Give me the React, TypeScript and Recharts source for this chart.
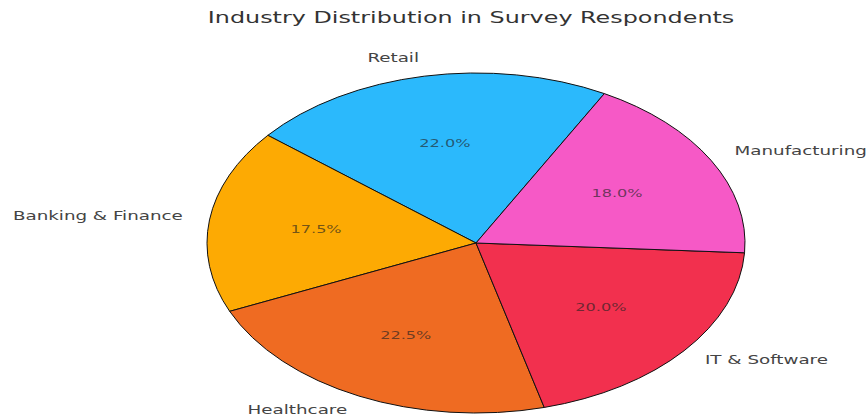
import React from "react";
import { PieChart, Pie, Cell } from "recharts";

// ---------------------------------------------------------------------------
// Data
// ---------------------------------------------------------------------------

const categories = [
  "Retail",
  "Banking & Finance",
  "Healthcare",
  "IT & Software",
  "Manufacturing",
];
const shares = [22.0, 17.5, 22.5, 20.0, 18.0];
const colors = ["#2BB9FC", "#FDAA03", "#EF6B22", "#F2304E", "#F659C6"];

const TITLE = "Industry Distribution in Survey Respondents";

// ---------------------------------------------------------------------------
// Layout (the reference is a matplotlib pie stretched horizontally)
// ---------------------------------------------------------------------------

const W = 868;
const H = 420;
const CX = 476;
const CY = 243;
const RX = 269;
const Y_RATIO = 0.632; // vertical radius / horizontal radius
const STRETCH = 1.55; // horizontal stretch applied to text
const RAD = Math.PI / 180;

const data = categories.map((name, i) => ({ name, value: shares[i] }));
const total = shares.reduce((a, b) => a + b, 0);

// eslint-disable-next-line @typescript-eslint/no-explicit-any
function renderLabel(props: Record<string, any>) {
  const { cx, cy, midAngle, outerRadius, index } = props;
  const cos = Math.cos(midAngle * RAD);
  const sin = Math.sin(midAngle * RAD);

  const lx = cx + outerRadius * 1.1 * cos;
  const ly = cy - outerRadius * Y_RATIO * 1.1 * sin;
  const px = cx + outerRadius * 0.6 * cos;
  const py = cy - outerRadius * Y_RATIO * 0.6 * sin;
  const pct = ((shares[index] / total) * 100).toFixed(1) + "%";

  return (
    <g key={`lbl-${index}`}>
      <text
        transform={`translate(${lx},${ly - 1}) scale(${STRETCH},1)`}
        x={0}
        y={0}
        textAnchor={cos < 0 ? "end" : "start"}
        dominantBaseline="central"
        fontFamily="DejaVu Sans"
        fontSize={11.8}
        fill="#444"
      >
        {categories[index]}
      </text>
      <text
        transform={`translate(${px},${py}) scale(${STRETCH},1)`}
        x={0}
        y={0}
        textAnchor="middle"
        dominantBaseline="central"
        fontFamily="DejaVu Sans"
        fontSize={10.4}
        fill="#222"
        fillOpacity={0.65}
      >
        {pct}
      </text>
    </g>
  );
}

export default function App() {
  return (
    <div
      style={{
        position: "absolute",
        left: 0,
        top: 0,
        width: W,
        height: H,
        background: "#fff",
      }}
    >
      <style>{`
        .recharts-pie-sector path {
          transform: scaleY(${Y_RATIO});
          transform-origin: ${CX}px ${CY}px;
          vector-effect: non-scaling-stroke;
        }
      `}</style>

      {/* Title */}
      <svg
        width={W}
        height={40}
        style={{ position: "absolute", left: 0, top: 0 }}
      >
        <text
          transform={`translate(471,23) scale(1.57,1)`}
          x={0}
          y={0}
          textAnchor="middle"
          fontFamily="DejaVu Sans"
          fontSize={15.2}
          fill="#333"
        >
          {TITLE}
        </text>
      </svg>

      <PieChart
        width={W}
        height={H}
        margin={{ top: 0, right: 0, bottom: 0, left: 0 }}
      >
        <Pie
          data={data}
          dataKey="value"
          nameKey="name"
          cx={CX}
          cy={CY}
          outerRadius={RX}
          startAngle={61.5}
          endAngle={421.5}
          stroke="#111"
          strokeWidth={1}
          label={renderLabel}
          labelLine={false}
          isAnimationActive={false}
        >
          {data.map((d, i) => (
            <Cell key={d.name} fill={colors[i]} />
          ))}
        </Pie>
      </PieChart>
    </div>
  );
}
